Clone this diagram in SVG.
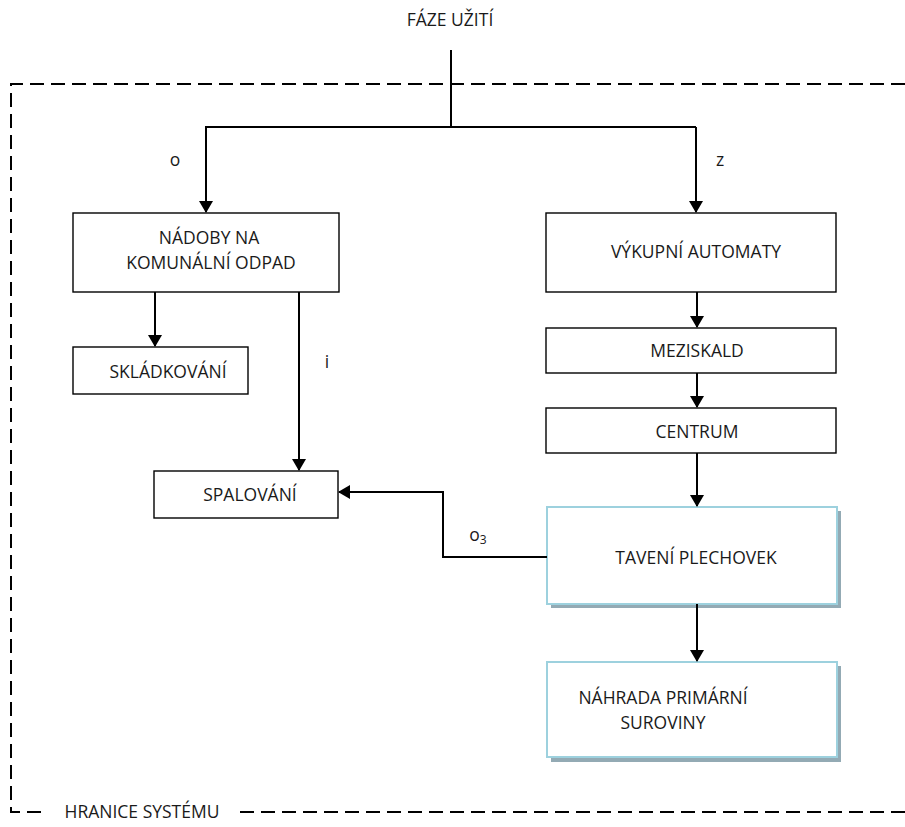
<svg xmlns="http://www.w3.org/2000/svg" width="905" height="827" viewBox="0 0 905 827">
<style>
text{font-family:"Open Sans","Liberation Sans",sans-serif;font-size:17.5px;fill:#1a1a1a;text-anchor:middle}
.box{fill:#fff;stroke:#000;stroke-width:1.4}
.bbox{fill:#fff;stroke:#9dd1de;stroke-width:2}
.shadow{fill:#93aab4}
.ln{fill:none;stroke:#000;stroke-width:2}
.dash{fill:none;stroke:#000;stroke-width:2;stroke-dasharray:14,7}
</style>
<defs>
<marker id="ah" markerWidth="12" markerHeight="14" refX="11" refY="7" orient="auto" markerUnits="userSpaceOnUse">
<path d="M0,0 L12,7 L0,14 Z" fill="#000"/>
</marker>
</defs>
<rect width="905" height="827" fill="#fff"/>

<g id="boundary">
<path class="dash" d="M905,84 L11,84 L11,812 L46,812"/>
<path class="dash" d="M240,812 L905,812"/>
<text x="142" y="818">HRANICE SYSTÉMU</text>
</g>

<g id="faze"><text x="450" y="26">FÁZE UŽITÍ</text></g>

<g id="nadoby"><rect class="box" x="73" y="213" width="266" height="79"/>
<text x="209" y="244">NÁDOBY NA</text><text x="211" y="269">KOMUNÁLNÍ ODPAD</text></g>
<g id="skladkovani"><rect class="box" x="73" y="347" width="175" height="47"/>
<text x="168" y="378">SKLÁDKOVÁNÍ</text></g>
<g id="spalovani"><rect class="box" x="154" y="471" width="184" height="47"/>
<text x="250" y="501">SPALOVÁNÍ</text></g>
<g id="vykupni"><rect class="box" x="546" y="213" width="290" height="79"/>
<text x="696" y="258">VÝKUPNÍ AUTOMATY</text></g>
<g id="meziskald"><rect class="box" x="546" y="328" width="290" height="45"/>
<text x="697" y="357">MEZISKALD</text></g>
<g id="centrum"><rect class="box" x="546" y="408" width="290" height="45"/>
<text x="697" y="438">CENTRUM</text></g>
<g id="taveni"><rect class="shadow" x="551" y="511" width="290" height="97"/>
<rect class="bbox" x="547" y="507" width="290" height="97"/>
<text x="696" y="564">TAVENÍ PLECHOVEK</text></g>
<g id="nahrada"><rect class="shadow" x="551" y="666" width="290" height="96"/>
<rect class="bbox" x="547" y="662" width="290" height="95"/>
<text x="663" y="704">NÁHRADA PRIMÁRNÍ</text><text x="663" y="729">SUROVINY</text></g>

<g id="connectors">
<path class="ln" d="M451,50 L451,127"/>
<path class="ln" d="M696,127 L206,127 L206,212" marker-end="url(#ah)"/>
<path class="ln" d="M696,127 L696,212" marker-end="url(#ah)"/>
<path class="ln" d="M155,292 L155,346" marker-end="url(#ah)"/>
<path class="ln" d="M299,292 L299,470" marker-end="url(#ah)"/>
<path class="ln" d="M697,292 L697,327" marker-end="url(#ah)"/>
<path class="ln" d="M697,373 L697,407" marker-end="url(#ah)"/>
<path class="ln" d="M697,453 L697,506" marker-end="url(#ah)"/>
<path class="ln" d="M697,604 L697,661" marker-end="url(#ah)"/>
<path class="ln" d="M547,557 L443,557 L443,492 L339,492" marker-end="url(#ah)"/>
<text x="175" y="166">o</text>
<text x="720" y="166">z</text>
<text x="327" y="368">i</text>
<text x="478" y="541">o<tspan dy="3" style="font-size:12px">3</tspan></text>
</g>
</svg>
